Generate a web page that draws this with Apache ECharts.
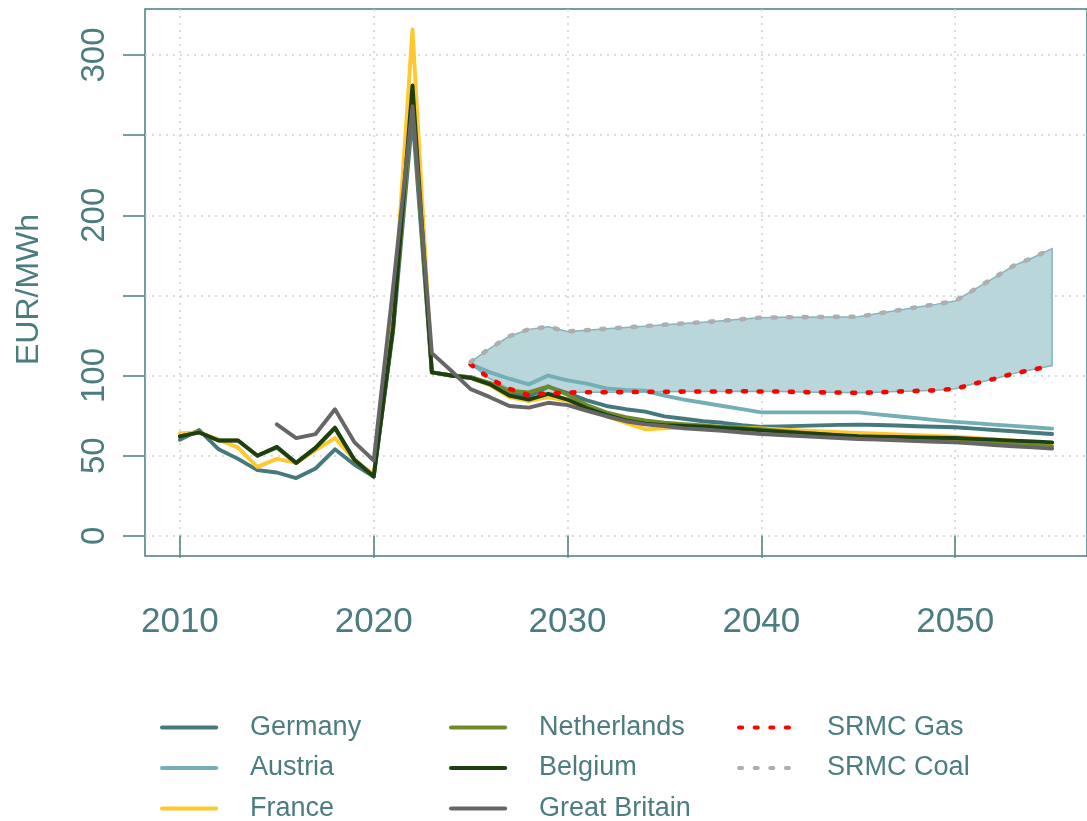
<!DOCTYPE html>
<html>
<head>
<meta charset="utf-8">
<title>Wholesale electricity prices and SRMC</title>
<script src="https://cdn.jsdelivr.net/npm/echarts@6/dist/echarts.min.js"></script>
<style>
  html, body { margin: 0; padding: 0; background: #ffffff; }
  #chart { width: 1087px; height: 821px; }
</style>
</head>
<body>
<div id="chart"></div>
<script>
// Years 2010..2055
const years = [];
for (let y = 2010; y <= 2055; y++) years.push(y);

// Annual baseload prices, EUR/MWh (null = no value)
const germany = [60, 66, 54, 48, 41, 39.5, 36, 42, 54, 44.5, 37, 128, 262, 102, 100,
  99, 95, 89, 87, 93, 89, 84.5, 81, 79, 77.5, 74.5, 73, 71.5, 70.5, 69, 68,
  68.3, 68.6, 68.9, 69.2, 69.4, 69.1, 68.8, 68.4, 68, 67.7, 66.9, 66, 65.2, 64.3, 63.5];
const austria = [null, null, null, null, null, null, null, null, null, null, null, null, null, null, null,
  107, 102, 98, 94.5, 100, 97, 95, 92, 91, 90.5, 87.5, 85, 83, 81, 79, 77,
  77, 77, 77, 77, 77, 75.8, 74.6, 73.4, 72.2, 71.1, 70.3, 69.4, 68.6, 67.7, 66.9];
const france = [64, 64.5, 60, 55, 43, 48, 45.5, 53.5, 61, 47.5, 38, 135, 316, 102, 100,
  98.5, 94, 86.5, 84, 86.5, 84, 79.5, 74.6, 70.4, 66.5, 67, 67.5, 67.6, 67.6, 67.5, 67,
  66.4, 65.8, 65.2, 64.7, 64.2, 63.7, 63.2, 62.7, 62.3, 61.9, 61, 60.2, 59.4, 58.5, 57.7];
const netherlands = [62, 64.5, 59.5, 59.5, 50, 55, 45.5, 54.5, 67, 47.5, 37, 130, 270, 102, 100,
  99, 95.5, 90.5, 89.5, 93.3, 88, 81.5, 77, 74, 72, 70.6, 69.6, 68.8, 68, 67.3, 66.5,
  65.5, 64.5, 63.5, 62.6, 61.8, 61.5, 61.2, 60.9, 60.6, 60.4, 59.5, 58.6, 57.6, 56.7, 55.8];
const belgium = [62, 64.5, 59.5, 59.5, 50, 55.5, 45.5, 55, 67.5, 47.5, 37, 130, 281, 102, 100,
  98.5, 94.5, 87.5, 85, 88.5, 85, 79.5, 75.5, 72, 70, 69, 68.5, 68, 67.3, 66.6, 65.8,
  65, 64.2, 63.5, 62.8, 62.1, 61.9, 61.7, 61.4, 61.2, 61, 60.5, 60, 59.4, 58.9, 58.3];
const greatBritain = [null, null, null, null, null, 69.5, 61, 63.5, 79, 58.5, 47, 155, 268, 114, 103,
  91.5, 86.5, 81, 80, 83, 81.5, 78, 74.6, 71.5, 69.5, 68.5, 67, 66.3, 65.5, 64.5, 63.5,
  62.9, 62.3, 61.6, 61, 60.4, 60, 59.6, 59.1, 58.7, 58.3, 57.5, 56.7, 55.9, 55.2, 54.4];

// Short-run marginal cost band, 2025..2055
const bandYears = [];
for (let y = 2025; y <= 2055; y++) bandYears.push(y);
const srmcGas = [107, 98, 91.7, 87.7, 88.9, 89.4, 89.6, 89.6, 89.7, 89.8, 89.9, 90, 90, 90.1, 90.2, 90,
  90, 89.7, 89.5, 89.4, 89.2, 89.5, 90, 90.4, 90.8, 91.7, 95, 97.9, 101.2, 103.7, 106.2];
const srmcCoal = [108.5, 117, 124.5, 128.8, 130.4, 127.5, 128.3, 129.2, 130, 130.8, 131.7, 132.5, 133.3, 134.2, 135.2, 136.1,
  136.3, 136.4, 136.5, 136.6, 136.7, 138.7, 140.6, 142.6, 144.4, 146.5, 153.7, 161, 168.4, 173.5, 179.2];

const xTicks = [2010, 2020, 2030, 2040, 2050];
const yTicks = [0, 50, 100, 150, 200, 250, 300];
const yLabels = [0, 50, 100, 200, 300];

const TEXT = '#4A7C80';
const FONT = "'Liberation Sans', Arial, sans-serif";

const countries = [
  { name: 'Germany', data: germany, color: '#44797E' },
  { name: 'Austria', data: austria, color: '#74AEB6' },
  { name: 'France', data: france, color: '#FFC92E' },
  { name: 'Netherlands', data: netherlands, color: '#6E8B2C' },
  { name: 'Belgium', data: belgium, color: '#1E3F12' },
  { name: 'Great Britain', data: greatBritain, color: '#666666' }
];

const pair = (xs, ys) => xs.map((x, i) => [x, ys[i]]);

const series = [];

// Shaded band between gas and coal SRMC
series.push({
  type: 'custom',
  name: 'band',
  coordinateSystem: 'cartesian2d',
  silent: true,
  z: 1,
  encode: { x: 0, y: [1, 2] },
  data: bandYears.map((y, i) => [y, srmcGas[i], srmcCoal[i]]),
  renderItem: function (params, api) {
    if (params.dataIndex !== 0) return null;
    const pts = [];
    for (let i = 0; i < bandYears.length; i++) pts.push(api.coord([bandYears[i], srmcCoal[i]]));
    for (let i = bandYears.length - 1; i >= 0; i--) pts.push(api.coord([bandYears[i], srmcGas[i]]));
    return {
      type: 'polygon',
      shape: { points: pts },
      style: { fill: '#B9D7DB', stroke: '#82B5BC', lineWidth: 1.5 }
    };
  }
});

countries.forEach(c => {
  series.push({
    type: 'line',
    name: c.name,
    data: pair(years, c.data),
    symbol: 'none',
    connectNulls: false,
    z: 3,
    color: c.color,
    lineStyle: { color: c.color, width: 3.9, cap: 'round', join: 'round' },
    emphasis: { disabled: true }
  });
});

series.push({
  type: 'line',
  name: 'SRMC Gas',
  data: pair(bandYears, srmcGas),
  symbol: 'none',
  z: 4,
  color: '#FF0000',
  lineStyle: { color: '#FF0000', width: 4.6, type: [3, 12.6], cap: 'round' },
  emphasis: { disabled: true }
});
series.push({
  type: 'line',
  name: 'SRMC Coal',
  data: pair(bandYears, srmcCoal),
  symbol: 'none',
  z: 4,
  color: '#AEAEAE',
  lineStyle: { color: '#AEAEAE', width: 4.6, type: [3, 12.6], cap: 'round' },
  emphasis: { disabled: true }
});

const legendBase = {
  orient: 'vertical',
  top: 714,
  height: 140,
  padding: 0,
  itemWidth: 54,
  itemHeight: 14,
  itemGap: 13.5,
  selectedMode: false,
  itemStyle: { opacity: 0 },
  lineStyle: { width: 4.2 },
  textStyle: { color: TEXT, fontSize: 27, fontFamily: FONT, lineHeight: 26, padding: [0, 0, 0, 29] }
};

const chart = echarts.init(document.getElementById('chart'), null, { renderer: 'canvas' });
chart.setOption({
  animation: false,
  backgroundColor: '#ffffff',
  textStyle: { fontFamily: FONT },
  grid: {
    left: 145, right: -6, top: 9, bottom: 265,
    show: true, borderColor: '#4A7C80', borderWidth: 1.5, backgroundColor: 'transparent'
  },
  legend: [
    Object.assign({}, legendBase, { left: 160, data: ['Germany', 'Austria', 'France'] }),
    Object.assign({}, legendBase, { left: 449, data: ['Netherlands', 'Belgium', 'Great Britain'] }),
    Object.assign({}, legendBase, { left: 737, data: ['SRMC Gas', 'SRMC Coal'] })
  ],
  xAxis: {
    type: 'value',
    min: 2008.2,
    max: 2056.8,
    axisLine: { show: false },
    axisTick: { show: true, customValues: xTicks, length: 22, lineStyle: { color: '#4A7C80', width: 1.5 } },
    axisLabel: { customValues: xTicks, formatter: v => String(v), color: TEXT, fontSize: 35, fontFamily: FONT, margin: 49 },
    splitLine: { show: true, lineStyle: { color: '#CFCFCF', width: 1.5, type: [2, 5] } }
  },
  yAxis: {
    type: 'value',
    min: -12.6,
    max: 328.7,
    name: 'EUR/MWh',
    nameLocation: 'middle',
    nameGap: 100,
    nameTextStyle: { color: TEXT, fontSize: 32, fontFamily: FONT, padding: [0, 14, 0, 0] },
    axisLine: { show: false },
    axisTick: { show: true, customValues: yTicks, length: 22, lineStyle: { color: '#4A7C80', width: 1.5 } },
    axisLabel: { customValues: yLabels, formatter: v => String(v), rotate: 90, color: TEXT, fontSize: 33, fontFamily: FONT, margin: 34 },
    splitLine: { show: true, lineStyle: { color: '#CFCFCF', width: 1.5, type: [2, 5] } }
  },
  series: series
});
</script>
</body>
</html>
